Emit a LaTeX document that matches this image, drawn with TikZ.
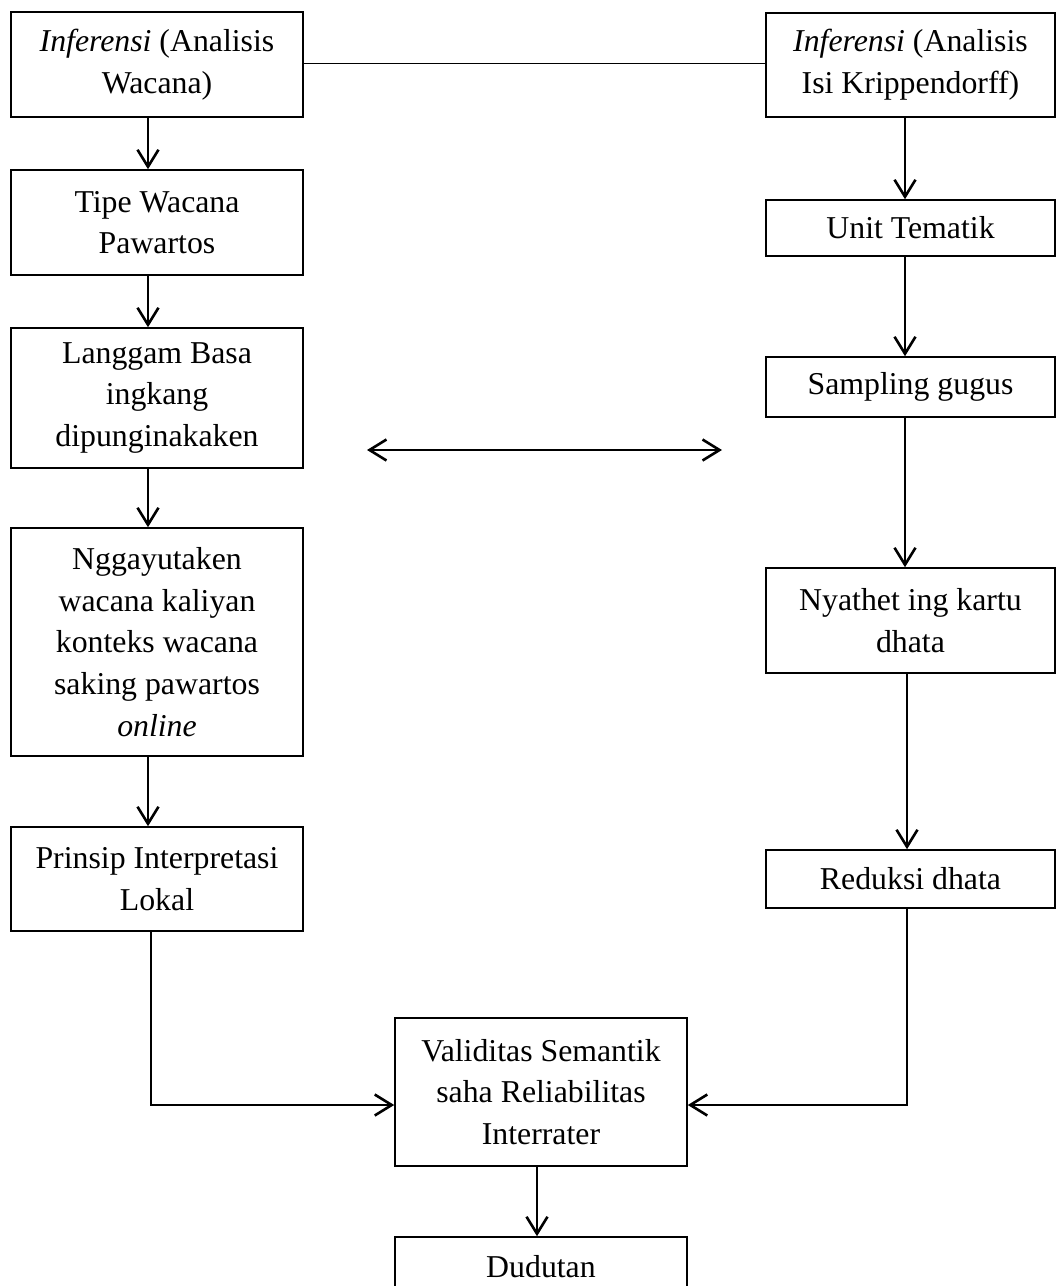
\documentclass[tikz,border=0pt]{standalone}
\usepackage{fontspec}
\setmainfont{Liberation Serif}
\usetikzlibrary{arrows.meta}
\begin{document}
\begin{tikzpicture}[x=1pt,y=-1pt,
  box/.style={draw, line width=1.6pt, minimum width=292pt, inner sep=0pt, align=center,
    font=\fontsize{31.8}{41.7}\selectfont},
  arr/.style={-{Straight Barb[length=17pt,width=21pt]}, line width=2.6pt},
  darr/.style={{Straight Barb[length=17pt,width=21pt]}-{Straight Barb[length=17pt,width=21pt]}, line width=2.6pt},
  plain/.style={line width=1.8pt}]
\useasboundingbox (0,0) rectangle (1056,1286);
\clip (0,0) rectangle (1056,1286);
\fill[white] (0,0) rectangle (1056,1286);
% left column
\node[box, minimum height=105pt] (L1) at (157,64.5) {\textit{Inferensi} (Analisis\\Wacana)};
\node[box, minimum height=105pt] (L2) at (157,222.5) {Tipe Wacana\\Pawartos};
\node[box, minimum height=140pt] (L3) at (157,398) {Langgam Basa\\ingkang\\dipunginakaken};
\node[box, minimum height=228pt] (L4) at (157,642) {Nggayutaken\\wacana kaliyan\\konteks wacana\\saking pawartos\\\textit{online}};
\node[box, minimum height=104pt] (L5) at (157,879) {Prinsip Interpretasi\\Lokal};
% right column
\node[box, minimum width=289pt, minimum height=104pt] (R1) at (910.5,65) {\textit{Inferensi} (Analisis\\Isi Krippendorff)};
\node[box, minimum width=289pt, minimum height=56pt] (R2) at (910.5,228) {Unit Tematik};
\node[box, minimum width=289pt, minimum height=60pt] (R3) at (910.5,387) {Sampling gugus};
\node[box, minimum width=289pt, minimum height=105pt] (R4) at (910.5,620.5) {Nyathet ing kartu\\dhata};
\node[box, minimum width=289pt, minimum height=58pt] (R5) at (910.5,879) {Reduksi dhata};
% bottom
\node[box, minimum height=148pt] (V) at (541,1092) {Validitas Semantik\\saha Reliabilitas\\Interrater};
\node[box, minimum height=60pt] (D) at (541,1267) {Dudutan};
% helper coordinates
\coordinate (lx) at (148,0);
\coordinate (lx2) at (151,0);
\coordinate (rx) at (905,0);
\coordinate (rx2) at (907,0);
\coordinate (bx) at (537,0);
\coordinate (ty) at (0,63.5);
\coordinate (hy) at (0,1105);
\coordinate (da1) at (367,450);
\coordinate (da2) at (722,450);
% connectors
\draw[plain] (L1.east |- ty) -- (R1.west |- ty);
\draw[arr] (L1.south -| lx) -- (L2.north -| lx);
\draw[arr] (L2.south -| lx) -- (L3.north -| lx);
\draw[arr] (L3.south -| lx) -- (L4.north -| lx);
\draw[arr] (L4.south -| lx) -- (L5.north -| lx);
\draw[arr] (R1.south -| rx) -- (R2.north -| rx);
\draw[arr] (R2.south -| rx) -- (R3.north -| rx);
\draw[arr] (R3.south -| rx) -- (R4.north -| rx);
\draw[arr] (R4.south -| rx2) -- (R5.north -| rx2);
\draw[arr] (L5.south -| lx2) |- (V.west |- hy);
\draw[arr] (R5.south -| rx2) |- (V.east |- hy);
\draw[arr] (V.south -| bx) -- (D.north -| bx);
\draw[darr] (da1) -- (da2);
\end{tikzpicture}
\end{document}
